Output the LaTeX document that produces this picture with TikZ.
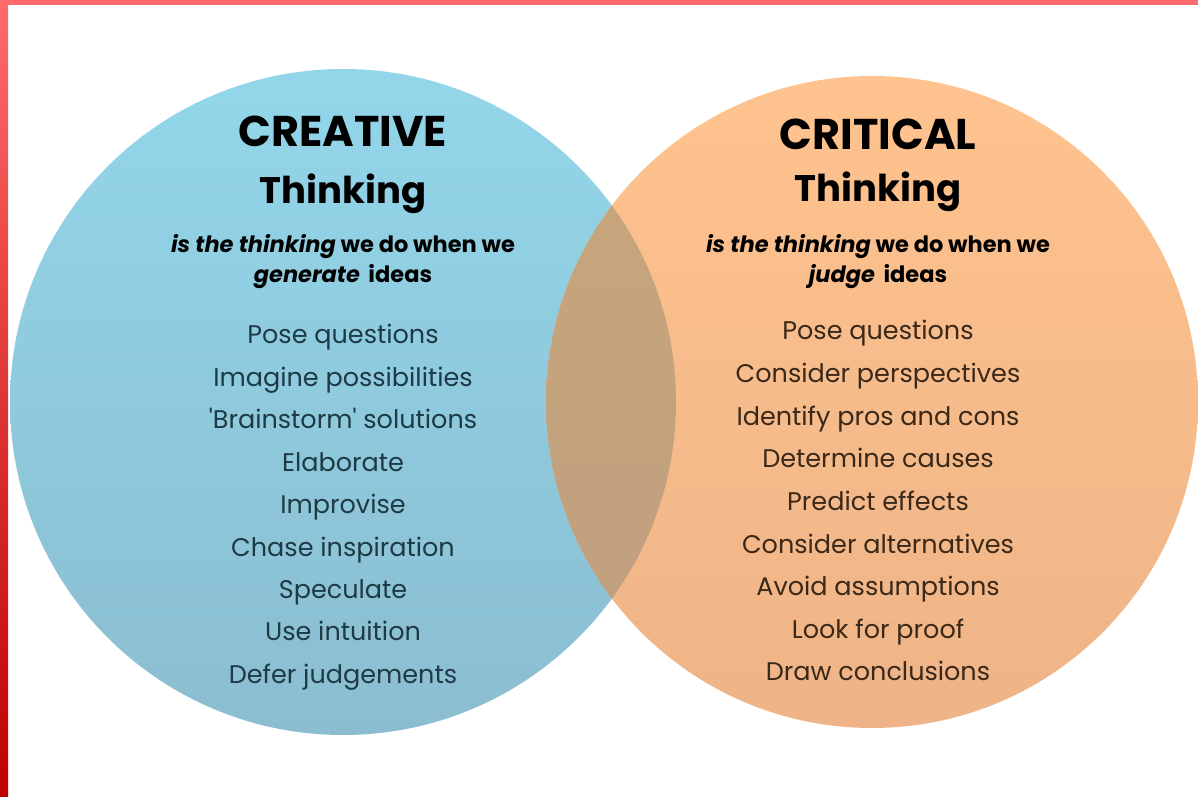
\documentclass[tikz,border=0pt]{standalone}
\usepackage{fontspec}
\setmainfont{Poppins}
\definecolor{creatop}{HTML}{93D6EA}
\definecolor{creabot}{HTML}{8BBDD0}
\definecolor{crittop}{HTML}{FFC38F}
\definecolor{critbot}{HTML}{EEB487}
\definecolor{lenstop}{HTML}{C9A77B}
\definecolor{lensbot}{HTML}{BE9E80}
\definecolor{creatext}{HTML}{1E3A44}
\definecolor{crittext}{HTML}{3A2818}
\definecolor{framered}{HTML}{FF6B6B}
\begin{document}
\begin{tikzpicture}
	[x=1pt,y=1pt,
	venn/.style={circle,inner sep=0pt,minimum size=#1},
	bigtitle/.style={anchor=base,font=\bfseries\fontsize{43}{43}\selectfont},
	subtitle/.style={anchor=base,font=\bfseries\fontsize{37}{37}\selectfont},
	tagline/.style={anchor=base,font=\bfseries\fontsize{22.5}{22.5}\selectfont},
	itemtext/.style={anchor=base,font=\fontsize{25.5}{25.5}\selectfont},]
	\useasboundingbox (0,0) rectangle (1198,796);
	\fill[white] (0,0) rectangle (1198,796);
	% red frame
	\fill[framered] (0,791) rectangle (1198,796);
	\shade[top color=framered,bottom color=red!75!black] (0,0) rectangle (8,796);
	% the two circles
	\node[venn=666pt,top color=creatop,bottom color=creabot,name=crea] at (343,394) {};
	\node[venn=652pt,top color=crittop,bottom color=critbot,name=crit] at (872,394) {};
	\begin{scope}
		\clip (crea.center) circle (333);
		\shade[top color=lenstop,bottom color=lensbot] (crit.center) circle (326);
	\end{scope}
	% creative side
	\node[bigtitle,name=creahead] at (343,649) {CREATIVE};
	\node[subtitle,name=creathink] at (343,592) {Thinking};
	\node[tagline,name=creatag1] at (343,543) {\textit{is the thinking} we do when we};
	\node[tagline,name=creatag2] at (343,513) {\textit{generate}\, ideas};
	\foreach \txt [count=\i] in {Pose questions,Imagine possibilities,\textquotesingle Brainstorm\textquotesingle\ solutions,Elaborate,Improvise,Chase inspiration,Speculate,Use intuition,Defer judgements}
	{
		\node[itemtext,text=creatext,name=crea\i] at (343,452-42.4*\i+42.4) {\txt};
	}
	% critical side
	\node[bigtitle,name=crithead] at (878,646) {CRITICAL};
	\node[subtitle,name=critthink] at (878,594) {Thinking};
	\node[tagline,name=crittag1] at (878,543) {\textit{is the thinking} we do when we};
	\node[tagline,name=crittag2] at (878,513) {\textit{judge}\, ideas};
	\foreach \txt [count=\i] in {Pose questions,Consider perspectives,Identify pros and cons,Determine causes,Predict effects,Consider alternatives,Avoid assumptions,Look for proof,Draw conclusions}
	{
		\node[itemtext,text=crittext,name=crit\i] at (878,456-42.6*\i+42.6) {\txt};
	}
\end{tikzpicture}
\end{document}
